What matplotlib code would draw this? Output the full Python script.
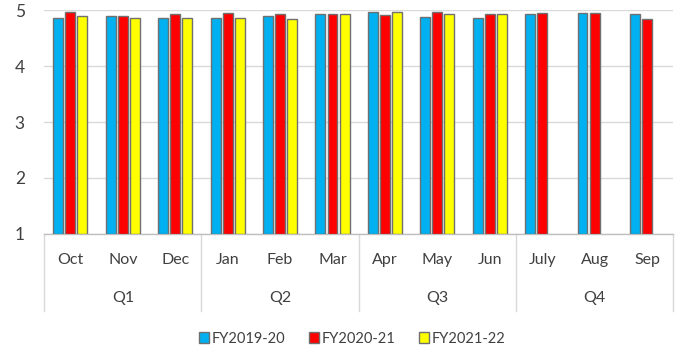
import numpy as np
import matplotlib
matplotlib.use("Agg")
import matplotlib.pyplot as plt
from matplotlib.patches import Patch

months = ["Oct", "Nov", "Dec", "Jan", "Feb", "Mar", "Apr", "May", "Jun", "July", "Aug", "Sep"]
quarters = ["Q1", "Q2", "Q3", "Q4"]
series_names = ["FY2019-20", "FY2020-21", "FY2021-22"]
fy2019 = [4.86, 4.90, 4.86, 4.86, 4.90, 4.93, 4.98, 4.89, 4.87, 4.94, 4.95, 4.94]
fy2020 = [4.97, 4.90, 4.94, 4.96, 4.93, 4.94, 4.92, 4.97, 4.94, 4.96, 4.96, 4.84]
fy2021 = [4.90, 4.87, 4.87, 4.87, 4.84, 4.93, 4.97, 4.94, 4.94, np.nan, np.nan, np.nan]
colors = ["#00B0F0", "#FF0000", "#FFFF00"]

plt.rcParams['font.family'] = ['Lato', 'DejaVu Sans']
txt = "#404040"

fig = plt.figure(figsize=(6.8, 3.49), dpi=100)
ax = fig.add_axes([0.065, 0.33, 0.925, 0.64])

x = np.arange(len(months))
w = 0.19
step = 0.23
for i, (vals, c) in enumerate(zip([fy2019, fy2020, fy2021], colors)):
    ax.bar(x + (i - 1) * step, np.array(vals) - 1, bottom=1, width=w, color=c,
           edgecolor="#707070", linewidth=1.0, zorder=3)

ax.set_xlim(-0.5, len(months) - 0.5)
ax.set_ylim(1, 5)
ax.set_yticks([1, 2, 3, 4, 5])
ax.yaxis.grid(True, color="#d9d9d9", linewidth=1.0, zorder=0)
ax.set_axisbelow(True)
for s in ["top", "right", "left"]:
    ax.spines[s].set_visible(False)
ax.spines["bottom"].set_color("#bfbfbf")
ax.spines["bottom"].set_linewidth(1.0)
ax.tick_params(axis="y", length=0, labelsize=12.5, labelcolor=txt, pad=14)
ax.set_xticks([])

trans = ax.get_xaxis_transform()
for i, m in enumerate(months):
    ax.text(i, -0.117, m, transform=trans, ha="center", va="center",
            fontsize=11.5, color=txt)
for q, name in enumerate(quarters):
    ax.text(q * 3 + 1, -0.287, name, transform=trans, ha="center", va="center",
            fontsize=11.5, color=txt)
for b in [-0.5, 2.5, 5.5, 8.5, 11.5]:
    ax.plot([b, b], [0, -0.345], transform=trans, color="#d9d9d9",
            linewidth=1.0, clip_on=False)

handles = [Patch(facecolor=c, edgecolor="#707070", label=n) for c, n in zip(colors, series_names)]
fig.legend(handles=handles, loc="center", bbox_to_anchor=(0.518, 0.03), ncol=3,
           frameon=False, fontsize=10.5, handlelength=0.7, handleheight=0.7,
           handletextpad=0.2, columnspacing=1.6, labelcolor=txt)

fig.savefig("out.png", dpi=100)
